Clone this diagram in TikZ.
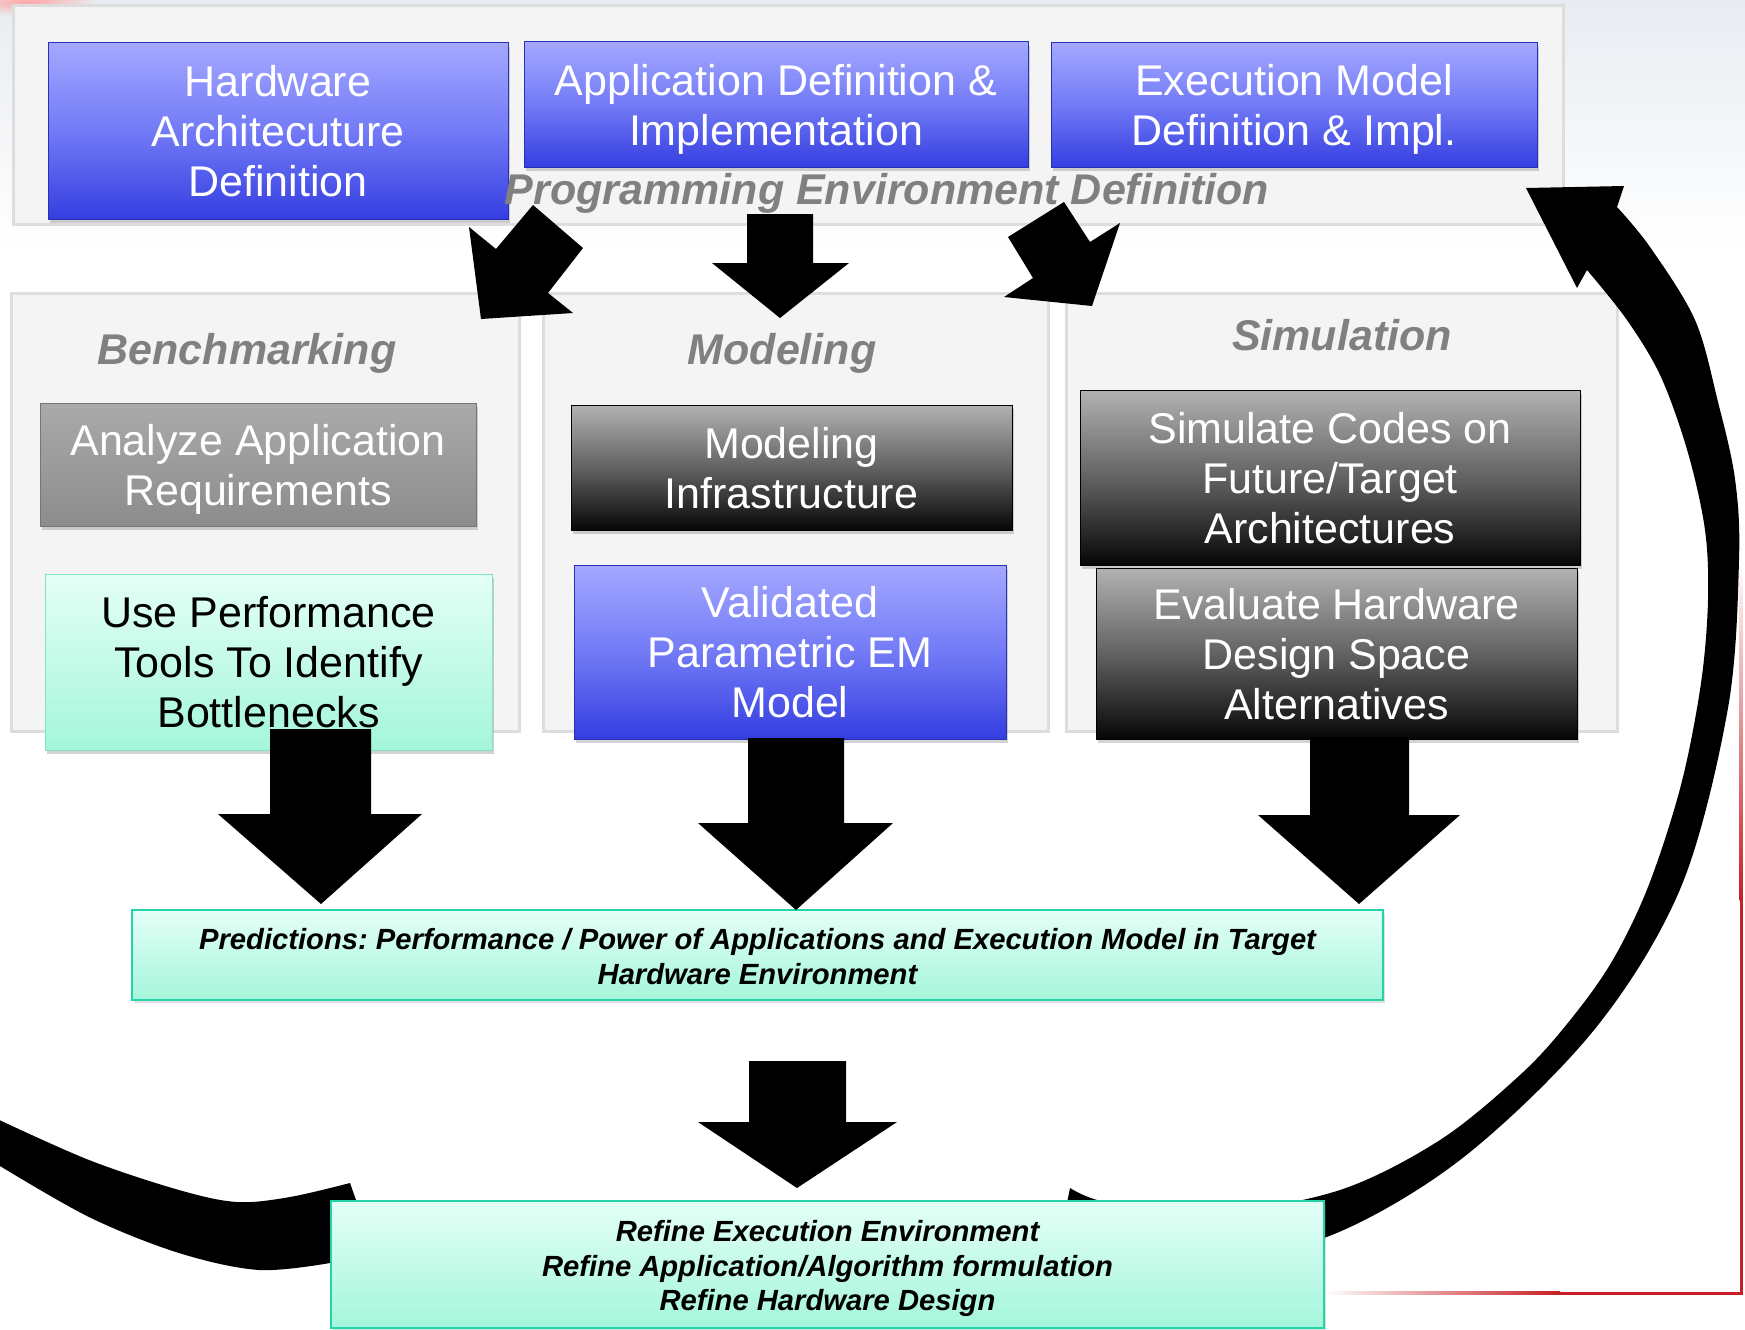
\documentclass[tikz,border=0pt]{standalone}
\usepackage{fontspec}
\setmainfont{Liberation Sans}
\usetikzlibrary{shadows}
\frenchspacing

\definecolor{panelfill}{RGB}{244,244,244}
\definecolor{panelline}{RGB}{221,221,221}
\definecolor{blueT}{RGB}{164,168,255}
\definecolor{blueM}{RGB}{114,122,246}
\definecolor{blueB}{RGB}{52,62,224}
\definecolor{blueE}{RGB}{40,48,180}
\definecolor{darkT}{RGB}{178,178,178}
\definecolor{darkM}{RGB}{98,98,98}
\definecolor{darkB}{RGB}{6,6,6}
\definecolor{greyT}{RGB}{170,170,170}
\definecolor{greyB}{RGB}{140,140,140}
\definecolor{greyE}{RGB}{118,118,118}
\definecolor{mintT}{RGB}{228,255,246}
\definecolor{mintB}{RGB}{164,246,218}
\definecolor{mintE}{RGB}{38,210,168}
\definecolor{mintL}{RGB}{130,226,194}
\definecolor{titlegrey}{RGB}{128,128,128}
\definecolor{edgered}{RGB}{200,30,35}
\definecolor{skytop}{RGB}{232,236,241}

\tikzset{
  panel/.style={draw=panelline, line width=3pt, fill=panelfill},
  % struts beside the text block fix its height and depth, so that the
  % capitals of the middle of the block sit at the centre of the box
  twoline/.style={execute at begin node={\rule{0pt}{90.5pt}}},
  threeline/.style={execute at begin node={\rule{0pt}{140.5pt}}},
  twonote/.style={execute at begin node={\rule{0pt}{65.3pt}}},
  threenote/.style={execute at begin node={\rule{0pt}{99.8pt}}},
  card/.style={rectangle, inner sep=0pt, align=center,
    font=\fontsize{43}{50}\selectfont,
    execute at end node={\rule[-9.5pt]{0pt}{9.5pt}},
    drop shadow={shadow xshift=2pt, shadow yshift=-4pt, opacity=0.35}},
  bluecard/.style={card, text=white, top color=blueT, bottom color=blueB,
    middle color=blueM, draw=blueE, line width=1pt},
  darkcard/.style={card, text=white, top color=darkT, bottom color=darkB,
    middle color=darkM, draw=black, line width=1pt},
  greycard/.style={card, text=white, top color=greyT, bottom color=greyB,
    draw=greyE, line width=1pt},
  mintcard/.style={card, text=black, top color=mintT, bottom color=mintB,
    draw=mintL, line width=1pt},
  notecard/.style={rectangle, inner sep=0pt, align=center, text=black,
    top color=mintT, bottom color=mintB, draw=mintE, line width=2pt,
    font=\fontsize{29.2}{34.5}\selectfont\bfseries\itshape,
    execute at end node={\rule[-6.9pt]{0pt}{6.9pt}},
    drop shadow={shadow xshift=2pt, shadow yshift=-3pt, opacity=0.25}},
  ttl/.style={font=\fontsize{43}{50}\selectfont\bfseries\itshape,
    text=titlegrey, anchor=base, inner sep=0pt},
  blockarrow/.style={fill=black},
}

\begin{document}
\begin{tikzpicture}[x=1pt, y=-1pt]
\useasboundingbox (0,0) rectangle (1745,1330);

% soft slide background at the top
\shade[top color=skytop, bottom color=white] (0,0) rectangle (1745,250);
\shade[inner color=red!35!white, outer color=skytop] (28,2) ellipse [x radius=70, y radius=14];

% red frame remnants on the right and bottom
\shade[top color=white, bottom color=edgered] (1739.5,560) rectangle (1742.5,900);
\fill[edgered] (1739.5,900) rectangle (1742.5,1294.5);
\shade[left color=white, right color=edgered] (1324,1291.5) rectangle (1560,1294.5);
\fill[edgered] (1560,1291.5) rectangle (1742.5,1294.5);

% group panels
\draw[panel] (13,6) rectangle (1563,224);
\draw[panel] (11,293) rectangle (519,731);
\draw[panel] (543,293) rectangle (1048,731);
\draw[panel] (1066,293) rectangle (1617,731);

% programming environment definition
\node[bluecard, threeline, minimum width=460pt, minimum height=176pt] (hw) at (278,131)
  {Hardware\\Architecuture\\Definition};
\node[bluecard, twoline, minimum width=504pt, minimum height=125pt] (app) at (776,104.5)
  {Application Definition \&\\Implementation};
\node[bluecard, twoline, minimum width=486pt, minimum height=124pt] (exe) at (1294,105)
  {Execution Model\\Definition \& Impl.};
\node[ttl] (ped) at (887,204) {Programming Environment Definition};

% panel titles
\node[ttl] (bench) at (247,364) {Benchmarking};
\node[ttl] (model) at (782,364) {Modeling};
\node[ttl] (simul) at (1342,350) {Simulation};

% benchmarking
\node[greycard, twoline, minimum width=436pt, minimum height=123pt] (req) at (258,464.5)
  {Analyze Application\\Requirements};
\node[mintcard, threeline, minimum width=447pt, minimum height=176pt] (tools) at (268.5,662)
  {Use Performance\\Tools To Identify\\Bottlenecks};

% modeling
\node[darkcard, twoline, minimum width=441pt, minimum height=125pt] (infra) at (791.5,467.5)
  {Modeling\\Infrastructure};
\node[bluecard, threeline, minimum width=432pt, minimum height=174pt] (em) at (790,652)
  {Validated\\Parametric EM\\Model};

% simulation
\node[darkcard, threeline, minimum width=500pt, minimum height=175pt] (sim) at (1330,477.5)
  {Simulate Codes on\\Future/Target\\Architectures};
\node[darkcard, threeline, minimum width=481pt, minimum height=171pt] (eval) at (1336.5,653.5)
  {Evaluate Hardware\\Design Space\\Alternatives};

% predictions
\node[notecard, twonote, minimum width=1251pt, minimum height=90pt] (pred) at (757.5,955)
  {Predictions: Performance / Power of Applications and Execution Model in Target\\Hardware Environment};

% arrows from the programming environment into the three panels
\fill[blockarrow] (481,319) -- (469,227) -- (496,249) -- (533,205) -- (583,248)
  -- (548,293) -- (573,313) -- cycle;
\fill[blockarrow] (747,214) -- (813,214) -- (813,263) -- (849,263) -- (780,318)
  -- (712,263) -- (747,263) -- cycle;
\fill[blockarrow] (1064,202) -- (1090,242) -- (1120,223) -- (1092,306)
  -- (1004,297) -- (1033,278) -- (1008,237) -- cycle;

% arrows from the panels into the predictions
\fill[blockarrow] (270,729) -- (371,729) -- (371,814) -- (422,814) -- (321,904)
  -- (218,814) -- (270,814) -- cycle;
\fill[blockarrow] (748,738) -- (844,738) -- (844,823) -- (893,823) -- (796,910)
  -- (698,823) -- (748,823) -- cycle;
\fill[blockarrow] (1310,737) -- (1409,737) -- (1409,815) -- (1460,815) -- (1359,904)
  -- (1258,815) -- (1310,815) -- cycle;

% predictions into refinement
\fill[blockarrow] (749,1061) -- (846,1061) -- (846,1122) -- (897,1122) -- (797,1188)
  -- (698,1122) -- (749,1122) -- cycle;

% feedback loop on the right, back to the programming environment
\fill[blockarrow]
  plot[smooth, tension=0.55] coordinates {(1062,1228) (1200,1255) (1324,1238)
    (1460,1160) (1594,1030) (1681,887) (1728,708) (1739,560) (1735,479)
    (1718,402) (1695,320) (1650,247) (1617,207)}
  -- (1624,186) -- (1526,188) -- (1577,288)
  -- plot[smooth, tension=0.55] coordinates {(1587,270) (1627,320) (1661,377)
    (1688,453) (1705,530) (1708,600) (1701,683) (1681,785) (1648,887)
    (1611,963) (1567,1024) (1520,1075) (1440,1140) (1340,1190) (1220,1212)
    (1110,1203) (1070,1188)}
  -- cycle;

% feedback loop leaving to the left
\fill[blockarrow]
  plot[smooth, tension=0.55] coordinates {(-5,1118) (89,1160) (179,1190)
    (237,1202) (290,1197) (350,1183)}
  -- (372,1245)
  -- plot[smooth, tension=0.55] coordinates {(330,1263) (259,1270) (179,1253)
    (89,1217) (-5,1163)}
  -- cycle;

% refinement
\node[notecard, threenote, minimum width=993pt, minimum height=127pt] (refine) at (827.5,1264.5)
  {Refine Execution Environment\\Refine Application/Algorithm formulation\\Refine Hardware Design};

\end{tikzpicture}
\end{document}
